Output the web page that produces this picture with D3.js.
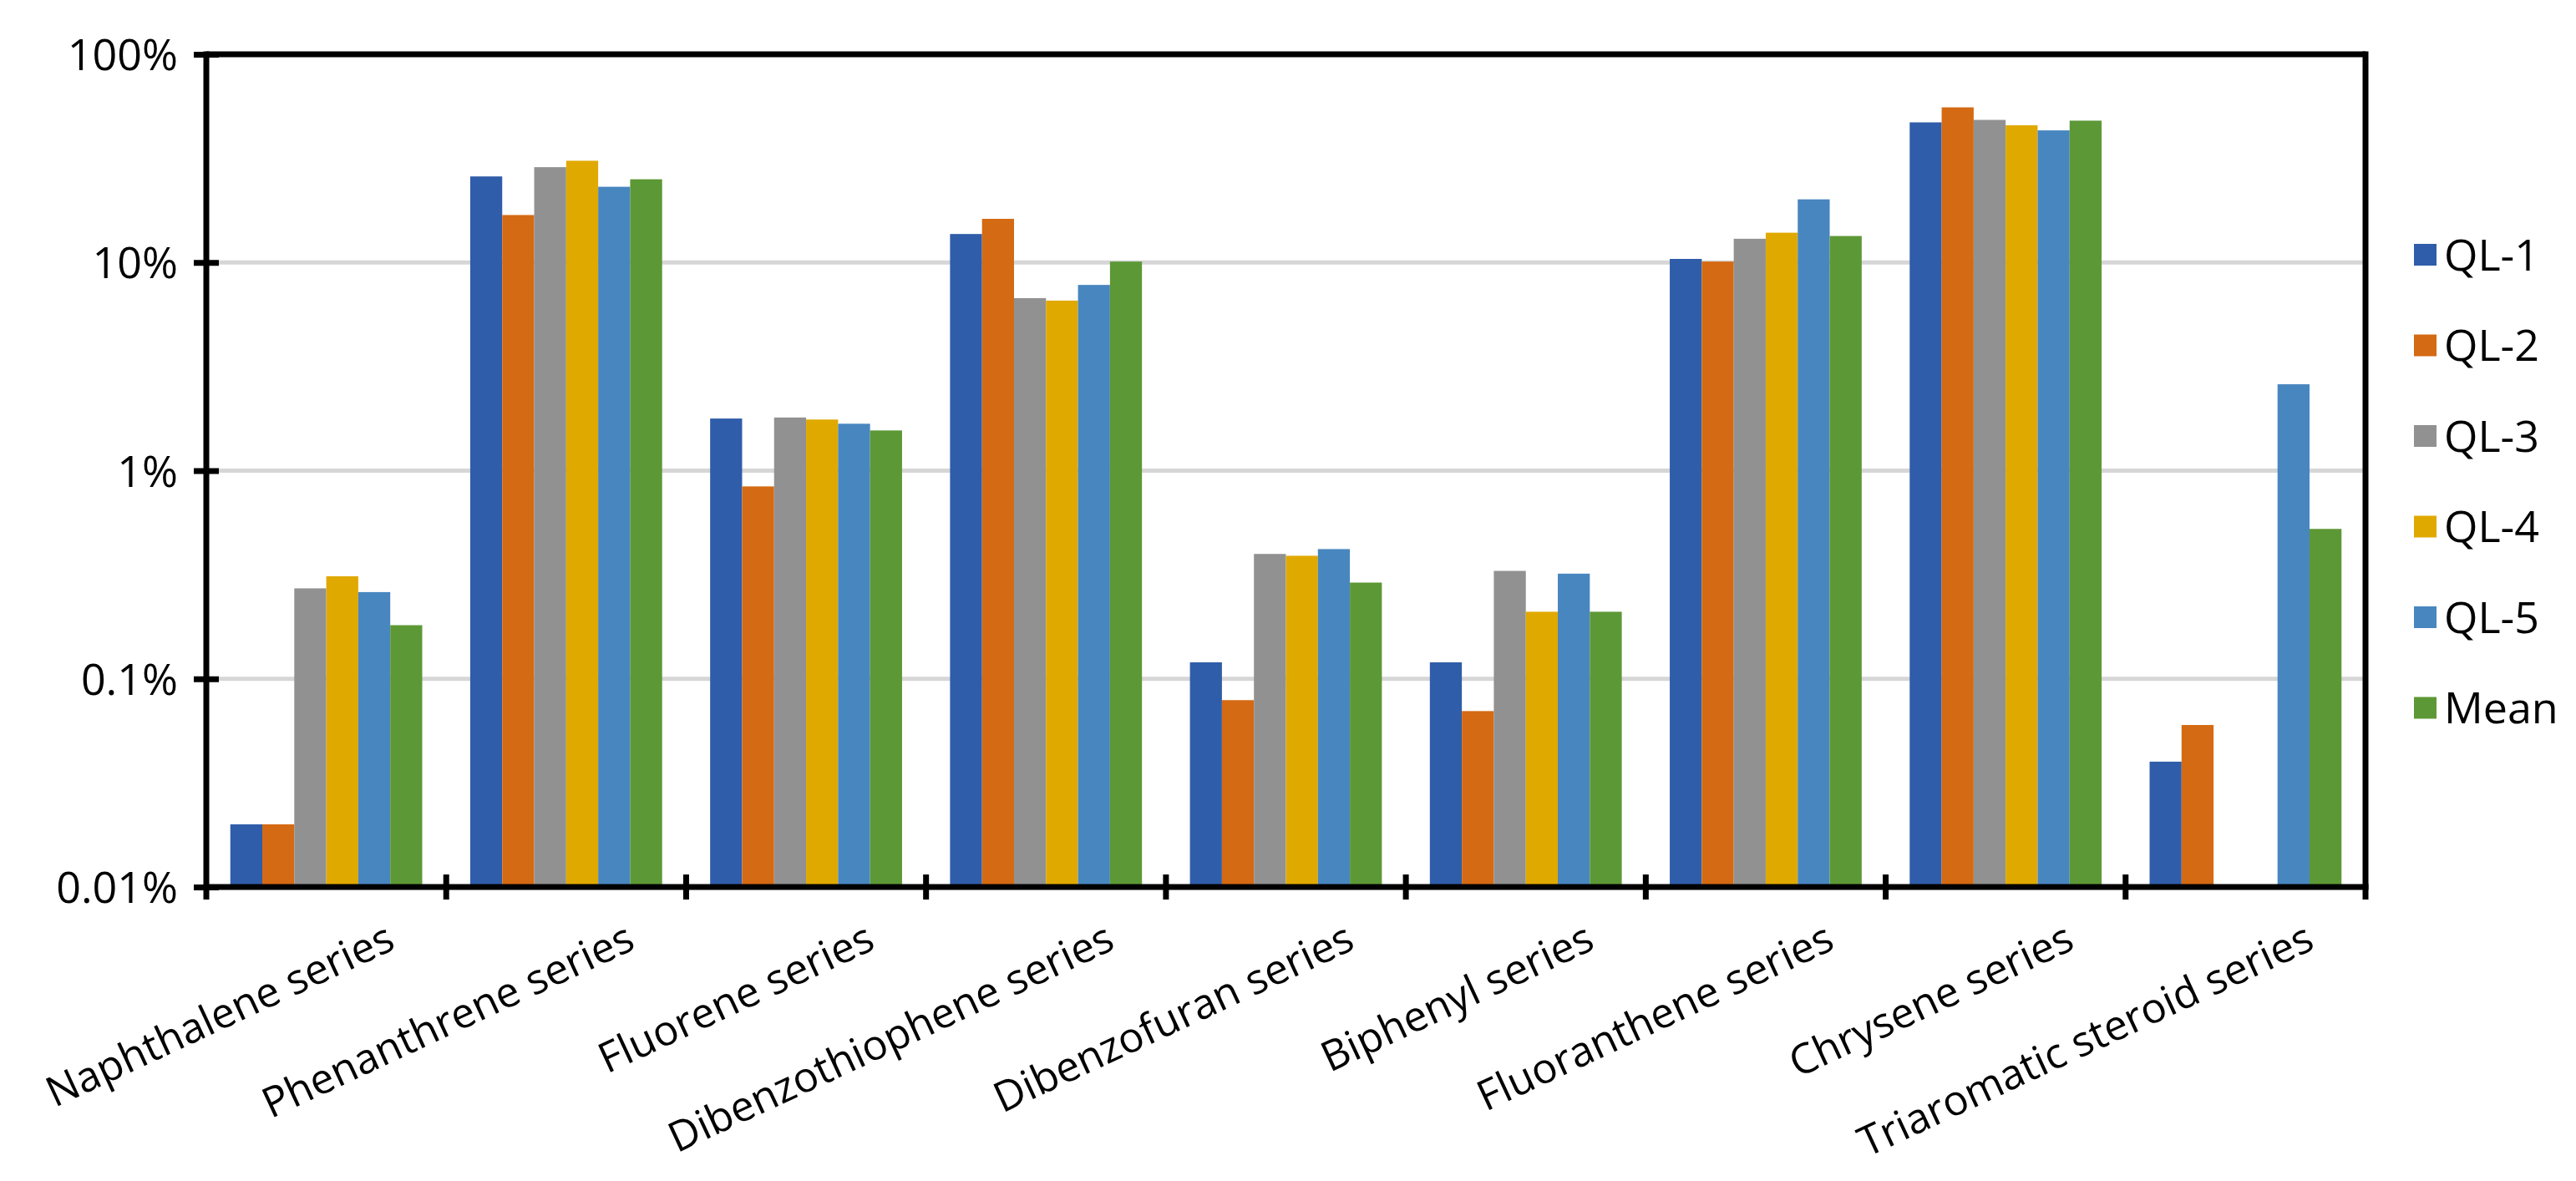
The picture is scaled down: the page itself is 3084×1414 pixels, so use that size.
<meta charset="utf-8"/>
<html>
    <head>
        <script src="https://d3js.org/d3.v7.min.js"></script>
        <title>Aromatic series distribution</title>
        <style media="all">
         * { padding: 0; margin: 0; }
         body { background: #ffffff; }
         text { font-family: "Open Sans", "Noto Sans", Arial; fill: #000; }
        </style>
    </head>
    <body>
        <div id="chart"></div>
    </body>
    <script type="text/javascript">

     // Categories along the x axis
     var categories = ["Naphthalene series", "Phenanthrene series", "Fluorene series",
                       "Dibenzothiophene series", "Dibenzofuran series", "Biphenyl series",
                       "Fluoranthene series", "Chrysene series", "Triaromatic steroid series"];

     var seriesNames = ["QL-1", "QL-2", "QL-3", "QL-4", "QL-5", "Mean"];
     var seriesColors = ["#2f5da9", "#d46a13", "#919191", "#e0a900", "#4886c0", "#5d9836"];

     // Relative content, percent (null = not detected)
     var ql1  = [0.02, 25.9, 1.78, 13.7, 0.12, 0.12, 10.4, 47.1, 0.04];
     var ql2  = [0.02, 16.9, 0.84, 16.2, 0.079, 0.07, 10.1, 55.6, 0.06];
     var ql3  = [0.272, 28.7, 1.80, 6.74, 0.398, 0.33, 13.0, 48.4, null];
     var ql4  = [0.311, 30.8, 1.76, 6.56, 0.39, 0.21, 13.9, 45.6, null];
     var ql5  = [0.261, 23.1, 1.68, 7.8, 0.42, 0.32, 20.1, 43.1, 2.6];
     var mean = [0.181, 25.1, 1.56, 10.1, 0.29, 0.21, 13.4, 48.0, 0.525];
     var seriesValues = [ql1, ql2, ql3, ql4, ql5, mean];

     var yTicks = [0.01, 0.1, 1, 10, 100];
     var yTickLabels = ["0.01%", "0.1%", "1%", "10%", "100%"];

     var width = 3084; var height = 1414;
     var plot = {left: 247, right: 2832, top: 65, bottom: 1062};

     var svg = d3.select("#chart").append('svg')
                 .attr('width', width)
                 .attr('height', height);

     var x = d3.scaleBand()
               .domain(categories)
               .range([plot.left, plot.right])
               .paddingInner(0.2)
               .paddingOuter(0.1);

     var xInner = d3.scaleBand()
                    .domain(seriesNames)
                    .range([0, x.bandwidth()])
                    .padding(0);

     var y = d3.scaleLog()
               .domain([0.01, 100])
               .range([plot.bottom, plot.top]);

     var color = d3.scaleOrdinal().domain(seriesNames).range(seriesColors);

     // gridlines
     svg.append('g')
        .selectAll('line')
        .data(yTicks.slice(1, -1))
        .join('line')
        .attr('x1', plot.left).attr('x2', plot.right)
        .attr('y1', d => y(d)).attr('y2', d => y(d))
        .attr('stroke', '#d6d6d6')
        .attr('stroke-width', 5);

     // bars
     var rows = [];
     seriesNames.forEach(function (s, i) {
         categories.forEach(function (c, j) {
             if (seriesValues[i][j] != null) rows.push({series: s, cat: c, value: seriesValues[i][j]});
         });
     });

     svg.append('g')
        .selectAll('rect')
        .data(rows)
        .join('rect')
        .attr('x', d => x(d.cat) + xInner(d.series))
        .attr('width', xInner.bandwidth())
        .attr('y', d => y(d.value))
        .attr('height', d => plot.bottom - y(d.value))
        .attr('fill', d => color(d.series));

     // frame: top + right border
     svg.append('line')
        .attr('x1', plot.left).attr('x2', plot.right)
        .attr('y1', plot.top).attr('y2', plot.top)
        .attr('stroke', '#000').attr('stroke-width', 7);
     svg.append('line')
        .attr('x1', plot.right).attr('x2', plot.right)
        .attr('y1', plot.top - 3.5).attr('y2', plot.bottom + 15)
        .attr('stroke', '#000').attr('stroke-width', 7);

     // y axis
     var yAxis = d3.axisLeft(y)
                   .tickValues(yTicks)
                   .tickFormat((d, i) => yTickLabels[i])
                   .tickSize(15)
                   .tickPadding(20);
     var gy = svg.append('g')
                 .attr('transform', 'translate(' + plot.left + ',0)')
                 .call(yAxis);
     gy.select('.domain').attr('stroke-width', 7).attr('d', 'M0,' + (plot.top - 3.5) + 'V' + (plot.bottom + 15));
     gy.selectAll('.tick line').attr('stroke-width', 7).attr('x2', 15).attr('x1', -15);
     gy.selectAll('.tick text')
       .style('font-size', '52px')
       .attr('x', -34)
       .attr('dy', '0.36em');

     // x axis: ticks at category boundaries
     var boundaries = categories.map(c => x(c) - x.step() * x.paddingInner() / 2);
     var xAxisG = svg.append('g');
     xAxisG.append('line')
           .attr('x1', plot.left - 3.5).attr('x2', plot.right + 3.5)
           .attr('y1', plot.bottom).attr('y2', plot.bottom)
           .attr('stroke', '#000').attr('stroke-width', 7);
     xAxisG.selectAll('.xtick')
           .data(boundaries.slice(1))
           .join('line')
           .attr('class', 'xtick')
           .attr('x1', d => d).attr('x2', d => d)
           .attr('y1', plot.bottom - 15).attr('y2', plot.bottom + 15)
           .attr('stroke', '#000').attr('stroke-width', 7);

     // rotated category labels, top-right corner hung just right of the band centre
     xAxisG.selectAll('.xlabel')
           .data(categories)
           .join('text')
           .attr('class', 'xlabel')
           .attr('transform', d => 'translate(' + (x(d) + x.bandwidth() / 2 + 72) + ',' + (plot.bottom + 46) + ') rotate(-25)')
           .attr('text-anchor', 'end')
           .attr('dy', '0.6em')
           .style('font-size', '50px')
           .text(d => d);

     // legend
     var legend = svg.append('g')
                     .attr('transform', 'translate(2890,305)')
                     .selectAll('g')
                     .data(seriesNames)
                     .join('g')
                     .attr('transform', (d, i) => 'translate(0,' + (i * 108.5) + ')');
     legend.append('rect')
           .attr('x', 0).attr('y', -13)
           .attr('width', 27).attr('height', 26)
           .attr('fill', d => color(d));
     legend.append('text')
           .attr('x', 36)
           .attr('dy', '0.36em')
           .style('font-size', '52px')
           .text(d => d);
    </script>
</html>
